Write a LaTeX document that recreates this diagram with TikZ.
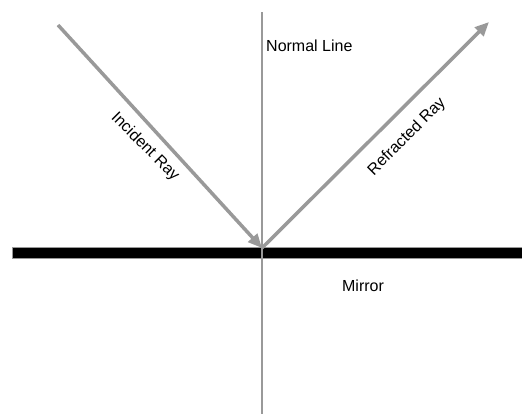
\documentclass[tikz,border=0pt]{standalone}
\usepackage{fontspec}
\setmainfont{Liberation Sans}
\usepackage{xcolor}
\usepackage{tikz}
\usetikzlibrary{arrows.meta, positioning}

\definecolor{raygray}{HTML}{999999}

\begin{document}
\begin{tikzpicture}[
			x=1pt, y=-1pt,
			every node/.style={font=\fontsize{16}{19}\selectfont, inner sep=0pt},
			ray/.style={
				-{Triangle[length=14pt,width=12pt]},
				line width=3.5pt, draw=raygray
			},
			normalline/.style={
				line width=2pt, draw=raygray
			},
			mirror/.style={
				fill=black, draw=raygray, line width=0.8pt
			}
			]
			\useasboundingbox (0,0) rectangle (522,415);
			
			% mirror
			\filldraw[mirror] (12,247) rectangle (522,258);
			
			\coordinate (top) at (262,12);
			\coordinate (bottom) at (262,414);
			\coordinate (hit) at (262,248);
			\coordinate (src) at (58,25);
			\coordinate (out) at (489,22);
			
			\draw[normalline] (top) -- (bottom);
			\draw[ray] (src) -- (hit);
			\draw[ray] (hit) -- (out);
			
			\node[anchor=west] (normal) at (266,46) {Normal Line};
			\node[rotate=-45] (inc) at (145,147) {Incident Ray};
			\node[rotate=45] (refr) at (407,137) {Refracted Ray};
			\node (mir) at (363,286) {Mirror};
		\end{tikzpicture}
\end{document}
